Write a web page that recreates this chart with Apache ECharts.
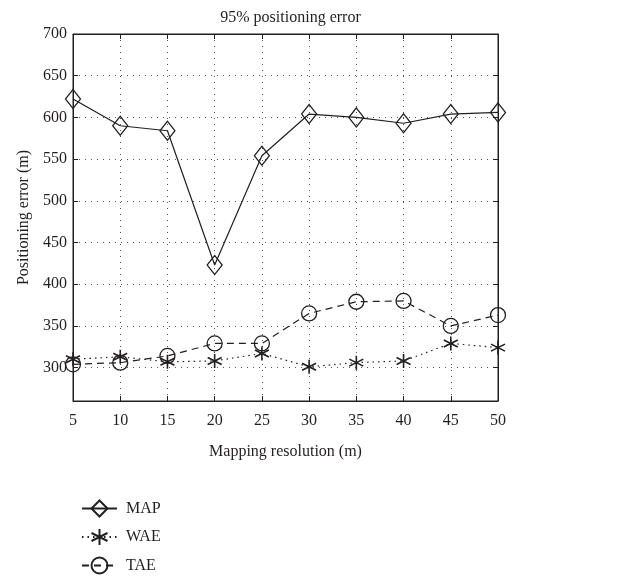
<!DOCTYPE html>
<html>
<head>
<meta charset="utf-8">
<script src="https://cdn.jsdelivr.net/npm/echarts@6/dist/echarts.min.js"></script>
<style>html,body{margin:0;padding:0;background:#fff}#c{width:630px;height:577px}</style>
</head>
<body>
<div id="c"></div>
<script>
const resolutions = [5, 10, 15, 20, 25, 30, 35, 40, 45, 50];
const mapValues = [622, 590, 584, 423, 554, 604, 600, 593, 604, 606];
const waeValues = [310, 313, 307, 308, 317, 301, 306, 308, 329, 324];
const taeValues = [304, 306, 314, 329, 329, 365, 379, 380, 350, 363];
const yTicks = [300, 350, 400, 450, 500, 550, 600, 650, 700];
const xTicks = [5, 10, 15, 20, 25, 30, 35, 40, 45, 50];

const FONT = 'Liberation Serif';
const asterisk = 'path://M0,-10 L0,10 M-8.66,-5 L8.66,5 M-8.66,5 L8.66,-5';

function pairs(vals) { return resolutions.map((x, i) => [x, vals[i]]); }

const chart = echarts.init(document.getElementById('c'), null, {renderer: 'canvas'});
const gridLine = {show: true, lineStyle: {color: '#555', type: [1, 5], width: 1}};
chart.setOption({
  animation: false,
  backgroundColor: '#fff',
  textStyle: {fontFamily: FONT, color: '#231f20'},
  title: {
    text: '95% positioning error', left: 285.5, top: 5, textAlign: 'center',
    textStyle: {fontFamily: FONT, fontWeight: 'normal', fontSize: 16, color: '#231f20'}
  },
  grid: {left: 73, right: 132, top: 34, bottom: 176, show: true, borderColor: '#231f20', borderWidth: 1},
  legend: {
    orient: 'vertical', left: 81, top: 498, height: 79, padding: 0, itemGap: 7.5, itemWidth: 35, itemHeight: 20,
    textStyle: {fontFamily: FONT, fontSize: 16, color: '#231f20', padding: [0, 0, 0, 4]},
    data: ['MAP', 'WAE', 'TAE']
  },
  xAxis: [{
    type: 'value', min: 5, max: 50, interval: 5,
    name: 'Mapping resolution (m)', nameLocation: 'middle', nameGap: 43,
    nameTextStyle: {fontFamily: FONT, fontSize: 16, color: '#231f20'},
    axisLine: {show: true, lineStyle: {color: '#231f20'}},
    axisTick: {show: true, inside: true, length: 5, lineStyle: {color: '#231f20'}},
    axisLabel: {fontFamily: FONT, fontSize: 16, color: '#231f20', margin: 12},
    splitLine: gridLine
  }, {
    type: 'value', min: 5, max: 50, interval: 5, position: 'top',
    axisLine: {show: true, lineStyle: {color: '#231f20'}},
    axisTick: {show: true, inside: true, length: 5, lineStyle: {color: '#231f20'}},
    axisLabel: {show: false}, splitLine: {show: false}
  }],
  yAxis: [{
    type: 'value', min: 260, max: 700,
    name: 'Positioning error (m)', nameLocation: 'middle', nameGap: 41,
    nameTextStyle: {fontFamily: FONT, fontSize: 16, color: '#231f20'},
    axisLine: {show: true, lineStyle: {color: '#231f20'}},
    axisTick: {show: true, inside: true, length: 5, customValues: yTicks, lineStyle: {color: '#231f20'}},
    axisLabel: {fontFamily: FONT, fontSize: 16, color: '#231f20', margin: 6, customValues: yTicks},
    splitLine: gridLine
  }, {
    type: 'value', min: 260, max: 700, position: 'right',
    axisLine: {show: true, lineStyle: {color: '#231f20'}},
    axisTick: {show: true, inside: true, length: 5, customValues: yTicks, lineStyle: {color: '#231f20'}},
    axisLabel: {show: false, customValues: yTicks}, splitLine: {show: false}
  }],
  series: [{
    name: 'MAP', type: 'line', data: pairs(mapValues),
    symbol: 'diamond', symbolSize: [15, 19],
    lineStyle: {color: '#231f20', width: 1.2, type: 'solid'},
    itemStyle: {color: 'none', borderColor: '#231f20', borderWidth: 1.3},
    emphasis: {disabled: true}
  }, {
    name: 'WAE', type: 'line', data: pairs(waeValues),
    symbol: asterisk, symbolSize: 14,
    lineStyle: {color: '#231f20', width: 1.2, type: [1.5, 4]},
    itemStyle: {color: 'none', borderColor: '#231f20', borderWidth: 1.6},
    emphasis: {disabled: true}
  }, {
    name: 'TAE', type: 'line', data: pairs(taeValues),
    symbol: 'circle', symbolSize: 15,
    lineStyle: {color: '#231f20', width: 1.2, type: [7, 5]},
    itemStyle: {color: 'none', borderColor: '#231f20', borderWidth: 1.3},
    emphasis: {disabled: true}
  }]
});
</script>
</body>
</html>
